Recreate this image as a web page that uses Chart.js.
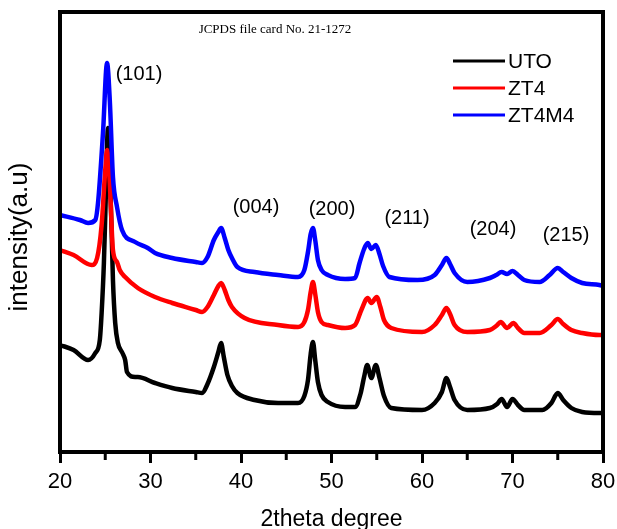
<!DOCTYPE html>
<html>
<head>
<meta charset="utf-8">
<script src="https://cdn.jsdelivr.net/npm/chart.js@4.4.1/dist/chart.umd.min.js"></script>
<style>
  html, body { margin: 0; padding: 0; background: #fff; }
  #wrap { width: 617px; height: 529px; }
</style>
</head>
<body>
<div id="wrap"><canvas id="xrd" width="617" height="529"></canvas></div>
<script>
// 2theta (deg) / intensity (a.u., offset stacked)
const utoX = [20.0, 21.5, 23.1, 23.9, 24.4, 24.6, 24.85, 25.05, 25.3, 25.5, 25.7, 25.85, 26.1, 26.4, 26.9, 27.2, 27.4, 28.3, 28.6, 30.5, 32.4, 35.0, 35.7, 36.3, 37.0, 37.5, 37.8, 38.1, 38.5, 39.0, 39.6, 41.5, 44.1, 46.3, 47.0, 47.4, 47.7, 47.95, 48.2, 48.5, 48.9, 49.6, 51.5, 52.6, 53.2, 53.6, 53.95, 54.4, 54.9, 55.3, 55.8, 56.6, 60.0, 61.4, 62.2, 62.7, 63.1, 63.6, 65.0, 67.5, 68.3, 68.8, 69.4, 70.0, 70.6, 71.3, 73.3, 74.3, 75.0, 75.6, 76.5, 77.7, 79.6, 80.0];
const utoY = [107, 102, 92, 99, 112, 139, 189, 252, 324, 282, 222, 172, 129, 109, 99, 92, 80, 75, 75, 69, 64, 60, 59, 68, 85, 100, 109, 95, 77, 66, 59, 52, 49, 49, 56, 72, 98, 110, 92, 70, 57, 50, 45, 45, 58, 75, 87, 74, 87, 74, 56, 44, 42, 49, 60, 74, 65, 52, 42, 44, 48, 53, 45, 53, 47, 42, 42, 49, 59, 52, 44, 40, 39, 39];

const zt4X = [20.0, 21.5, 23.5, 24.1, 24.6, 25.0, 25.2, 25.5, 25.85, 26.3, 26.6, 27.2, 28.6, 30.5, 32.4, 35.0, 35.7, 36.3, 37.0, 37.5, 37.8, 38.2, 38.6, 39.0, 40.4, 44.1, 46.3, 47.0, 47.4, 47.7, 47.95, 48.2, 48.5, 48.9, 49.6, 51.5, 52.6, 53.3, 54.0, 54.4, 55.0, 55.4, 55.8, 56.6, 60.0, 61.4, 62.2, 62.7, 63.1, 63.6, 65.0, 67.5, 68.2, 68.7, 69.4, 70.1, 70.6, 71.3, 73.0, 74.3, 75.0, 75.6, 76.5, 77.7, 79.6, 80.0];
const zt4Y = [202, 197, 187, 194, 227, 282, 302, 269, 202, 190, 182, 175, 164, 155, 149, 142, 140, 145, 157, 166, 169, 162, 152, 145, 134, 127, 125, 130, 142, 160, 170, 158, 140, 130, 127, 124, 127, 142, 154, 149, 155, 145, 132, 124, 120, 127, 137, 144, 138, 127, 120, 122, 126, 130, 124, 129, 124, 119, 119, 127, 133, 128, 122, 119, 117, 117];

const zt4m4X = [20.0, 22.2, 23.1, 23.9, 24.2, 24.75, 25.2, 25.5, 25.85, 26.3, 26.85, 28.3, 29.7, 30.5, 32.4, 35.0, 35.7, 36.3, 37.0, 37.5, 37.8, 38.2, 38.6, 39.0, 39.6, 41.5, 44.1, 46.3, 47.0, 47.4, 47.7, 47.95, 48.2, 48.5, 48.9, 49.6, 51.5, 52.6, 53.1, 53.6, 54.0, 54.4, 54.9, 55.3, 55.7, 56.4, 59.5, 61.4, 62.2, 62.7, 63.1, 63.6, 65.0, 67.5, 68.2, 68.8, 69.4, 70.0, 70.6, 71.3, 73.0, 74.1, 75.0, 75.6, 76.5, 77.7, 79.6, 80.0];
const zt4m4Y = [237, 232, 229, 232, 249, 319, 389, 352, 275, 245, 222, 210, 204, 199, 194, 190, 189, 195, 212, 220, 224, 214, 202, 194, 185, 180, 177, 175, 182, 200, 218, 224, 212, 192, 182, 177, 173, 174, 189, 203, 209, 203, 207, 198, 186, 175, 172, 177, 187, 194, 188, 179, 170, 174, 177, 180, 178, 181, 177, 172, 170, 177, 184, 180, 174, 169, 167, 166];

const seriesNames = ['UTO', 'ZT4', 'ZT4M4'];
const seriesColors = ['#000000', '#ff0000', '#0000ff'];
const xTicksMinor = [25, 35, 45, 55, 65, 75];
const peakNames = ['(101)', '(004)', '(200)', '(211)', '(204)', '(215)'];
const cardNote = 'JCPDS file card No. 21-1272';

const toPoints = (xs, ys) => xs.map((v, i) => ({ x: v, y: ys[i] }));

// where the peak labels sit, in px
const peakPos = [[139, 74], [256, 207], [332, 209], [407, 218], [493, 229], [566, 235]];

const decor = {
  id: 'decor',
  afterDatasetsDraw(chart) {
    const { ctx, chartArea: a, scales: { x } } = chart;
    ctx.save();
    ctx.strokeStyle = '#000';
    ctx.lineWidth = 4;
    ctx.strokeRect(a.left, a.top, a.right - a.left, a.bottom - a.top);

    ctx.lineWidth = 3;
    xTicksMinor.forEach(v => {
      const px = x.getPixelForValue(v);
      ctx.beginPath();
      ctx.moveTo(px, a.bottom);
      ctx.lineTo(px, a.bottom + 8);
      ctx.stroke();
    });

    // legend
    chart.data.datasets.forEach((ds, i) => {
      const y = 61 + i * 27;
      ctx.strokeStyle = ds.borderColor;
      ctx.lineWidth = 3;
      ctx.beginPath();
      ctx.moveTo(453, y);
      ctx.lineTo(505, y);
      ctx.stroke();
      ctx.fillStyle = '#000';
      ctx.font = '21px "Liberation Sans", Arial, sans-serif';
      ctx.textAlign = 'left';
      ctx.textBaseline = 'middle';
      ctx.fillText(ds.label, 508, y + 1);
    });

    ctx.fillStyle = '#000';
    ctx.font = '13px "Liberation Serif", "Times New Roman", serif';
    ctx.textAlign = 'center';
    ctx.textBaseline = 'middle';
    ctx.fillText(cardNote, 275, 30);

    ctx.font = '20px "Liberation Sans", Arial, sans-serif';
    peakNames.forEach((t, i) => ctx.fillText(t, peakPos[i][0], peakPos[i][1]));

    ctx.translate(20, 237);
    ctx.rotate(-Math.PI / 2);
    ctx.font = '26px "Liberation Sans", Arial, sans-serif';
    ctx.fillText('intensity(a.u)', 0, 0);
    ctx.restore();
  }
};

const seriesX = [utoX, zt4X, zt4m4X];
const seriesY = [utoY, zt4Y, zt4m4Y];

new Chart(document.getElementById('xrd').getContext('2d'), {
  type: 'line',
  data: {
    datasets: seriesNames.map((name, i) => ({
      label: name,
      data: toPoints(seriesX[i], seriesY[i]),
      borderColor: seriesColors[i],
      backgroundColor: seriesColors[i],
      borderWidth: 4.5,
      pointRadius: 0,
      cubicInterpolationMode: 'monotone',
      borderJoinStyle: 'round',
      order: 2 - i,
    })),
  },
  options: {
    responsive: false,
    animation: false,
    layout: { padding: { left: 60, right: 14, top: 12, bottom: 0 } },
    plugins: {
      legend: { display: false },
      tooltip: { enabled: false },
    },
    scales: {
      x: {
        type: 'linear',
        min: 20,
        max: 80,
        afterFit: s => { s.height = 77; s.paddingLeft = 0; s.paddingRight = 0; },
        border: { display: false },
        grid: { display: true, drawOnChartArea: false, drawTicks: true, tickLength: 11, tickWidth: 3, tickColor: '#000' },
        ticks: {
          stepSize: 10,
          color: '#000',
          padding: 6,
          maxRotation: 0,
          font: { family: '"Liberation Sans", Arial, sans-serif', size: 22 },
        },
        title: {
          display: true,
          text: '2theta degree',
          color: '#000',
          padding: 0,
          font: { family: '"Liberation Sans", Arial, sans-serif', size: 23, lineHeight: 0.85 },
        },
      },
      y: {
        display: false,
        min: 0,
        max: 440,
      },
    },
  },
  plugins: [decor],
});
</script>
</body>
</html>
